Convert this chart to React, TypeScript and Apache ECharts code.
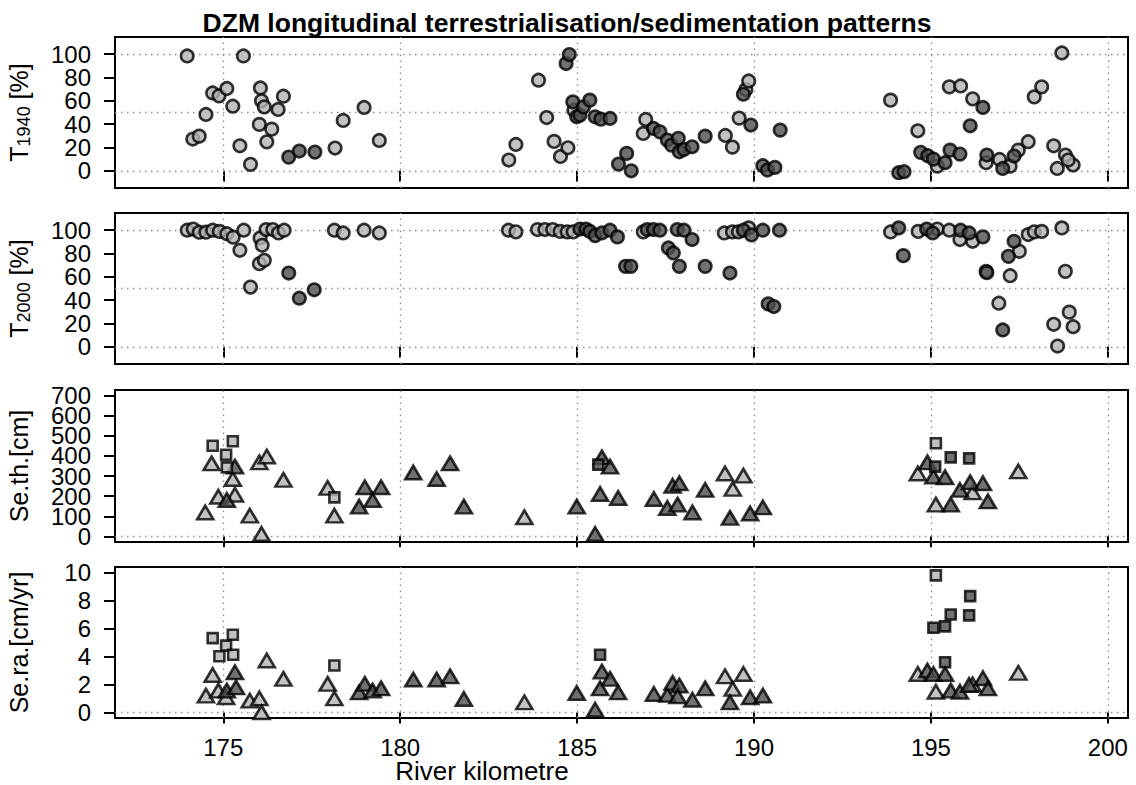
import React, { useEffect, useRef } from "react";
import * as echarts from "echarts";

const FONT = "'Liberation Sans', Arial, Helvetica, sans-serif";
const TITLE = "DZM longitudinal terrestrialisation/sedimentation patterns";
const X_LABEL = "River kilometre";

const xTicks = [175, 180, 185, 190, 195, 200];
const pctTicks = [0, 20, 40, 60, 80, 100];
const thTicks = [0, 100, 200, 300, 400, 500, 600, 700];
const raTicks = [0, 2, 4, 6, 8, 10];
const pctGrid = [0, 50, 100];
const zeroGrid = [0];

// T1940 [%]
const t1940Light = [
  [173.98, 98.5], [175.57, 98.5], [174.7, 66.8], [174.88, 64.3], [175.1, 70.6], [175.27, 55.4], [174.51, 48.3],
  [174.14, 27.2], [174.32, 29.7], [175.47, 21.4], [175.77, 5.5], [176.05, 71.1], [176.08, 60], [176.16, 54.8],
  [176.55, 52.6], [176.7, 64], [176.02, 39.8], [176.37, 35.7], [176.23, 24.8], [178.16, 19.5], [178.39, 43.2],
  [178.98, 54.3], [179.41, 26], [183.07, 9.2], [183.27, 22.6], [183.91, 77.7], [184.14, 45.7], [184.35, 25.2],
  [184.53, 12.3], [184.74, 19.7], [184.91, 52], [186.94, 44], [186.87, 32], [189.19, 30.3], [189.39, 20.3],
  [189.58, 45.2], [189.77, 69.7], [189.85, 77.1], [193.86, 60.6], [194.63, 34.3], [195.18, 4], [195.52, 72],
  [195.84, 72.8], [196.18, 61.7], [196.56, 6.9], [196.94, 9.7], [197.24, 4], [197.47, 17.7], [197.75, 24.9],
  [197.92, 63.4], [198.13, 72], [198.47, 21.4], [198.57, 2], [198.8, 13.5], [199.02, 4.9], [198.7, 101.1],
  [198.88, 9.2],
];
const t1940Dark = [
  [176.85, 11.7], [177.15, 16.9], [177.59, 16], [184.69, 92], [184.78, 99.7], [184.88, 59.1], [184.99, 46.3],
  [185.08, 47.7], [185.18, 54.8], [185.36, 60.6], [185.51, 46.3], [185.67, 44.3], [185.93, 44.9], [186.17, 5.7],
  [186.4, 14.9], [186.53, 0], [187.16, 36.3], [187.34, 33.4], [187.55, 26.3], [187.67, 22], [187.86, 27.8],
  [187.89, 16.3], [188.02, 18.3], [188.25, 20.6], [188.62, 29.7], [189.7, 65.7], [189.91, 39.2], [190.25, 4.3],
  [190.38, 0.6], [190.59, 2.9], [190.74, 34.9], [194.09, -1.7], [194.24, -0.8], [194.71, 15.8], [194.91, 12.9],
  [195.07, 10], [195.4, 6.9], [195.54, 17.7], [195.82, 14.3], [196.47, 54.3], [196.11, 38.6], [196.58, 13.5],
  [197.03, 2], [197.35, 12.6],
];

// T2000 [%]
const t2000Light = [
  [173.98, 100], [174.15, 101], [174.32, 98.3], [174.51, 98.3], [174.7, 100], [174.89, 99], [175.1, 97],
  [175.28, 94], [175.58, 100], [175.47, 82.8], [176.04, 93.4], [176.1, 87.1], [176.02, 71.3], [176.16, 74.2],
  [175.77, 51.2], [176.21, 100.6], [176.4, 100.6], [176.56, 97.7], [176.72, 100], [178.14, 100], [178.39, 97.7],
  [178.98, 100], [179.41, 97.7], [183.06, 100], [183.27, 98.6], [183.88, 100.6], [184.09, 100.6], [184.31, 100.6],
  [184.52, 99], [184.72, 98.6], [184.89, 98.6], [186.87, 98.6], [189.16, 97.7], [189.39, 98.6], [189.56, 98.6],
  [189.85, 102], [193.86, 98.5], [194.64, 99], [195.18, 101], [195.52, 100], [195.82, 92], [196.18, 90.5],
  [196.56, 64.7], [197.24, 61], [196.92, 37.4], [197.5, 81.9], [197.75, 96.3], [197.92, 98.6], [198.13, 99],
  [198.7, 102], [198.47, 19.3], [198.58, 0.6], [198.8, 64.7], [198.91, 29.7], [199.02, 17.2],
];
const t2000Dark = [
  [176.85, 63.3], [177.15, 41.7], [177.57, 48.9], [185.08, 101], [185.25, 101], [185.36, 99], [185.51, 95.4],
  [185.7, 97.7], [185.93, 100], [186.14, 94.3], [186.37, 69], [186.52, 69], [186.98, 100.6], [187.16, 100.6],
  [187.34, 100], [187.58, 84.8], [187.72, 80.5], [187.89, 69], [187.83, 100.6], [188.02, 100], [188.25, 92],
  [188.62, 69], [189.32, 63.3], [189.7, 100], [189.93, 96], [190.25, 100], [190.72, 100], [190.4, 36.8],
  [190.56, 34.5], [194.09, 102], [194.22, 78.2], [194.88, 101], [195.05, 97.7], [195.84, 100], [196.08, 97.7],
  [196.47, 94.3], [196.58, 63.6], [197.03, 14.4], [197.19, 77.6], [197.35, 90.5],
];

// Se.th. [cm]
const thTriLight = [
  [174.67, 363], [175.27, 285], [174.86, 197], [175.33, 207], [174.49, 119], [175.75, 103], [176.08, 12],
  [176.02, 368], [176.23, 397], [176.7, 281], [177.95, 241], [178.14, 103], [183.51, 95], [189.18, 313],
  [189.7, 302], [189.4, 236], [194.63, 313], [196.18, 219], [195.14, 158], [197.47, 323],
];
const thTriDark = [
  [175.33, 347], [175.1, 181], [178.84, 148], [179.0, 244], [179.22, 181], [179.46, 244], [180.37, 318],
  [181.03, 285], [181.41, 363], [181.8, 148], [184.99, 148], [185.51, 12], [185.7, 393], [185.93, 347],
  [185.65, 211], [186.16, 191], [187.17, 186], [187.55, 141], [187.7, 252], [187.89, 264], [187.84, 158],
  [188.26, 119], [188.62, 231], [189.32, 92], [189.89, 114], [190.25, 144], [194.9, 368], [195.07, 297],
  [195.4, 294], [195.82, 231], [196.11, 269], [196.47, 264], [196.61, 174], [195.56, 158],
];
const thSqLight = [[174.7, 451], [175.27, 473], [175.08, 406], [175.1, 343], [178.14, 194], [195.14, 463]];
const thSqDark = [[185.6, 357], [195.56, 393], [196.08, 388], [195.12, 347]];

// Se.ra. [cm/yr]
const raTriLight = [
  [174.7, 2.68], [174.51, 1.2], [174.86, 1.56], [175.08, 1.08], [175.75, 0.84], [176.02, 1.0], [176.08, 0],
  [176.23, 3.71], [176.7, 2.4], [177.95, 2.04], [178.14, 1.0], [183.51, 0.72], [189.18, 2.58], [189.7, 2.75],
  [189.4, 1.68], [194.63, 2.75], [195.14, 1.48], [196.18, 2.0], [197.47, 2.83],
];
const raTriDark = [
  [175.1, 1.56], [175.33, 2.87], [175.36, 1.79], [178.84, 1.43], [179.0, 2.04], [179.22, 1.56], [179.46, 1.72],
  [180.37, 2.35], [181.03, 2.35], [181.41, 2.58], [181.8, 0.96], [184.99, 1.39], [185.51, 0.19], [185.7, 2.92],
  [185.93, 2.4], [185.65, 1.72], [186.16, 1.43], [187.17, 1.32], [187.55, 1.25], [187.7, 2.11], [187.89, 1.92],
  [187.84, 1.15], [188.26, 0.91], [188.62, 1.72], [189.32, 0.72], [189.89, 1.08], [190.25, 1.2], [194.9, 2.99],
  [195.07, 2.75], [195.4, 2.75], [195.56, 1.56], [195.82, 1.48], [196.08, 1.96], [196.47, 2.44], [196.61, 1.72],
];
const raSqLight = [[174.7, 5.31], [175.27, 5.55], [175.08, 4.78], [174.89, 4.02], [175.28, 4.12], [178.14, 3.35], [195.14, 9.8]];
const raSqDark = [[185.65, 4.12], [196.11, 8.32], [195.56, 7.0], [196.08, 6.94], [195.07, 6.05], [195.4, 6.15], [195.4, 3.59]];

const LIGHT = "#b3b3b3";
const DARK = "#4d4d4d";

export default function App() {
  const ref = useRef<HTMLDivElement>(null);
  useEffect(() => {
    const chart = echarts.init(ref.current!, null, { renderer: "svg" });

    const grids = [
      { left: 115, top: 37, width: 1013, height: 151 },
      { left: 115, top: 213, width: 1013, height: 151 },
      { left: 115, top: 390, width: 1013, height: 152 },
      { left: 115, top: 567, width: 1013, height: 151 },
    ].map((g) => ({
      ...g,
      show: true,
      borderColor: "#000",
      borderWidth: 2,
      backgroundColor: "transparent",
      containLabel: false,
      outerBoundsMode: "none",
    }));

    const yCfg = [
      { min: -14.8, max: 114.8, ticks: pctTicks, name: "T{s|1940} [%]", hl: pctGrid },
      { min: -14.8, max: 114.8, ticks: pctTicks, name: "T{s|2000} [%]", hl: pctGrid },
      { min: -28, max: 728, ticks: thTicks, name: "Se.th.[cm]", hl: zeroGrid },
      { min: -0.4, max: 10.4, ticks: raTicks, name: "Se.ra.[cm/yr]", hl: zeroGrid },
    ];

    const tickStyle = { color: "#000", width: 2 };
    const labelStyle = {
      fontSize: 24,
      color: "#000",
      fontFamily: FONT,
      showMinLabel: true,
      showMaxLabel: true,
      hideOverlap: false,
    };
    const xAxis = yCfg.map((_, i) => ({
      gridIndex: i,
      type: "value",
      min: 171.94,
      max: 200.57,
      axisLine: { show: false },
      axisTick: { show: true, length: 11, lineStyle: tickStyle, customValues: xTicks },
      axisLabel: { ...labelStyle, show: i === 3, customValues: xTicks, margin: 17 },
      splitLine: { show: false },
    }));
    // Main y axes: all ticks, even-indexed labels, axis name
    const yMain = yCfg.map((c, i) => ({
      gridIndex: i,
      type: "value",
      position: "left",
      min: c.min,
      max: c.max,
      axisLine: { show: false },
      axisTick: { show: true, length: 11, lineStyle: tickStyle, customValues: c.ticks },
      axisLabel: { ...labelStyle, customValues: c.ticks.filter((_, k) => k % 2 === 0), margin: 24 },
      splitLine: { show: false },
      name: c.name,
      nameLocation: "middle",
      nameRotate: 90,
      nameGap: 82,
      nameMoveOverlap: false,
      nameTextStyle: {
        fontSize: 25,
        color: "#000",
        fontFamily: FONT,
        lineHeight: 28,
        rich: { s: { fontSize: 18, fontFamily: FONT, color: "#000", verticalAlign: "bottom", lineHeight: 18 } },
      },
    }));
    // Companion y axes on the same side: odd-indexed labels
    const yAlt = yCfg.map((c, i) => ({
      gridIndex: i,
      type: "value",
      position: "left",
      offset: 0,
      min: c.min,
      max: c.max,
      axisLine: { show: false },
      axisTick: { show: false },
      axisLabel: { ...labelStyle, customValues: c.ticks.filter((_, k) => k % 2 === 1), margin: 24 },
      splitLine: { show: false },
    }));

    const border = { borderColor: "#000", borderWidth: 2.6 };
    const sc = (i: number, data: number[][], symbol: string, size: any, color: string) => ({
      type: "scatter",
      xAxisIndex: i,
      yAxisIndex: i,
      symbol,
      symbolSize: size,
      data,
      itemStyle: { color, ...border },
      z: 3,
    });
    const gridLines = (i: number, hl: number[]) => ({
      type: "scatter",
      xAxisIndex: i,
      yAxisIndex: i,
      data: [],
      silent: true,
      z: 1,
      markLine: {
        silent: true,
        z: 1,
        symbol: ["none", "none"],
        label: { show: false },
        lineStyle: { type: [1.5, 4.5], color: "#8c8c8c", width: 1.3 },
        data: [...xTicks.map((v) => ({ xAxis: v })), ...hl.map((v) => ({ yAxis: v }))],
      },
    });

    const CIRC = 12.5;
    const TRI = [16, 13.5];
    const SQ = 10;
    const series = [
      gridLines(0, pctGrid),
      sc(0, t1940Light, "circle", CIRC, LIGHT),
      sc(0, t1940Dark, "circle", CIRC, DARK),
      gridLines(1, pctGrid),
      sc(1, t2000Light, "circle", CIRC, LIGHT),
      sc(1, t2000Dark, "circle", CIRC, DARK),
      gridLines(2, zeroGrid),
      sc(2, thTriLight, "triangle", TRI, LIGHT),
      sc(2, thTriDark, "triangle", TRI, DARK),
      sc(2, thSqLight, "rect", SQ, LIGHT),
      sc(2, thSqDark, "rect", SQ, DARK),
      gridLines(3, zeroGrid),
      sc(3, raTriLight, "triangle", TRI, LIGHT),
      sc(3, raTriDark, "triangle", TRI, DARK),
      sc(3, raSqLight, "rect", SQ, LIGHT),
      sc(3, raSqDark, "rect", SQ, DARK),
    ];

    chart.setOption({
      animation: false,
      backgroundColor: "#fff",
      grid: grids,
      xAxis,
      yAxis: [...yMain, ...yAlt],
      series,
      graphic: [
        {
          type: "text",
          x: 567,
          y: 23,
          style: { text: TITLE, fontSize: 26.5, fontWeight: "bold", fontFamily: FONT, fill: "#000", textAlign: "center", textVerticalAlign: "middle" },
        },
        {
          type: "text",
          x: 482,
          y: 771,
          style: { text: X_LABEL, fontSize: 26, lineHeight: 26, fontFamily: FONT, fill: "#000", textAlign: "center", textVerticalAlign: "middle" },
        },
      ],
    });
    return () => chart.dispose();
  }, []);
  return <div ref={ref} style={{ position: "fixed", left: 0, top: 0, width: 1136, height: 785, background: "#fff" }} />;
}
